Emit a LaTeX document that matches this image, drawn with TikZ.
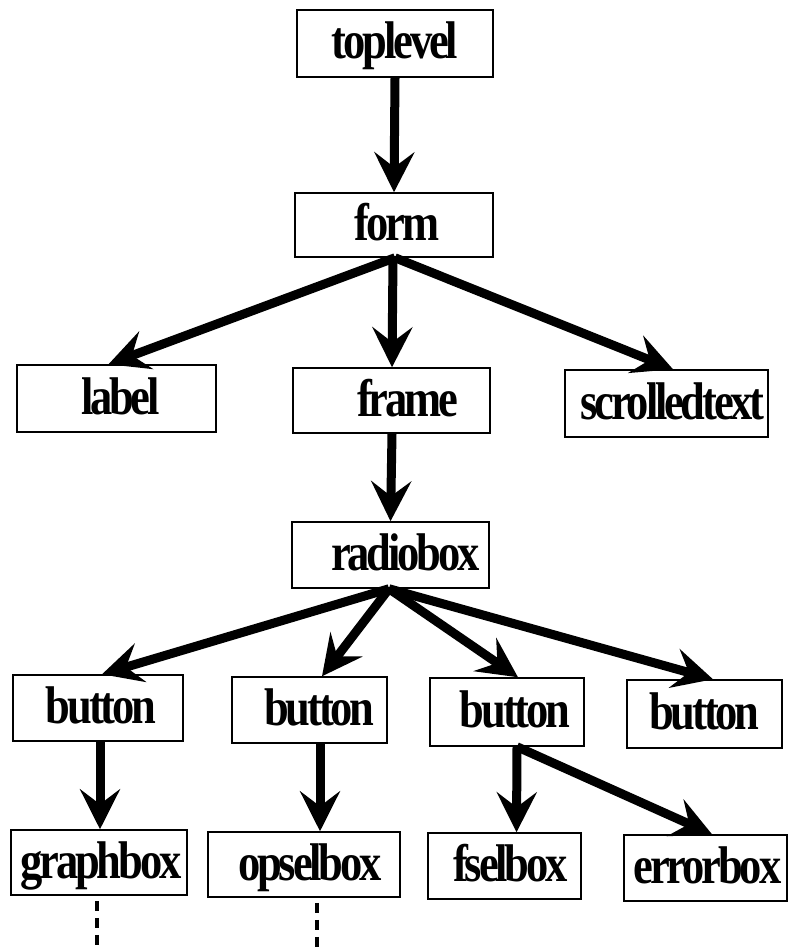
\documentclass[tikz,border=0pt]{standalone}
\usepackage{fontspec}
\newfontfamily\boxfont{Liberation Serif}[FakeStretch=0.84,LetterSpace=-6]
\usetikzlibrary{arrows.meta}
\begin{document}
\begin{tikzpicture}[x=1pt,y=-1pt,
  widget/.style={draw=black, line width=1.5pt, rectangle, inner sep=0pt,
    font=\boxfont\bfseries\fontsize{53}{55}\selectfont,
    text height=31pt, text depth=0pt},
  link/.style={line width=9pt,
    -{Stealth[length=40pt,width=40pt,inset=15pt]}},
  trail/.style={line width=3.5pt, dash pattern=on 10pt off 7pt}]
\useasboundingbox (0,0) rectangle (788,949);

% widget tree
\node[widget, minimum width=196pt, minimum height=67pt] (toplevel) at (395,43.5) {toplevel};
\node[widget, minimum width=198pt, minimum height=64pt] (form) at (394,225) {\hspace*{6pt}form};
\node[widget, minimum width=199pt, minimum height=67pt] (label) at (116.5,398.5) {\hspace*{8pt}label};
\node[widget, minimum width=197pt, minimum height=65pt] (frame) at (391.5,400.5) {\hspace*{32pt}frame};
\node[widget, minimum width=203pt, minimum height=67pt] (scrolled) at (666.5,403.5) {\hspace*{12pt}scrolledtext};
\node[widget, minimum width=197pt, minimum height=66pt] (radiobox) at (390.5,555) {\hspace*{30pt}radiobox};
\node[widget, minimum width=170pt, minimum height=66pt] (btnA) at (98,708) {\hspace*{6pt}button};
\node[widget, minimum width=155pt, minimum height=66pt] (btnB) at (309.5,710) {\hspace*{20pt}button};
\node[widget, minimum width=154pt, minimum height=68pt] (btnC) at (507,712) {\hspace*{16pt}button};
\node[widget, minimum width=155pt, minimum height=68pt] (btnD) at (704.5,714) {button};
\node[widget, minimum width=176pt, minimum height=65pt] (graphbox) at (99,862.5) {\hspace*{4pt}graphbox};
\node[widget, minimum width=192pt, minimum height=65pt] (opselbox) at (304,864.5) {\hspace*{12pt}opselbox};
\node[widget, minimum width=153pt, minimum height=66pt] (fselbox) at (504.5,866) {\hspace*{12pt}fselbox};
\node[widget, minimum width=163pt, minimum height=66pt] (errorbox) at (705.5,868) {\hspace*{4pt}errorbox};

% parent -> child links
\draw[link] (toplevel.south) -- (form.north);
\draw[link] ([xshift=1pt]form.south) -- ([xshift=-8pt]label.north);
\draw[link] ([xshift=-1pt]form.south) -- ([xshift=0.5pt]frame.north);
\draw[link] ([xshift=1pt]form.south) -- ([xshift=6.5pt]scrolled.north);
\draw[link] ([xshift=0.5pt]frame.south) -- (radiobox.north);
\draw[link] ([xshift=-1.5pt]radiobox.south) -- ([xshift=4pt]btnA.north);
\draw[link] ([xshift=-1.5pt]radiobox.south) -- ([xshift=12.5pt]btnB.north);
\draw[link] ([xshift=-1.5pt]radiobox.south) -- ([xshift=11pt]btnC.north);
\draw[link] ([xshift=-1.5pt]radiobox.south) -- ([xshift=8.5pt]btnD.north);
\draw[link] ([xshift=2pt]btnA.south) -- ([xshift=1pt]graphbox.north);
\draw[link] ([xshift=10.5pt]btnB.south) -- ([xshift=16pt]opselbox.north);
\draw[link] ([xshift=10pt]btnC.south) -- ([xshift=12pt]fselbox.north);
\draw[link] ([xshift=10pt]btnC.south) -- ([xshift=6.5pt]errorbox.north);

% continuation below the leaves
\coordinate (graphEnd) at (97,949);
\coordinate (opselEnd) at (317,949);
\draw[trail] ([xshift=-2pt]graphbox.south) ++(0,5) -- (graphEnd);
\draw[trail] ([xshift=13pt]opselbox.south) ++(0,5) -- (opselEnd);
\end{tikzpicture}
\end{document}
